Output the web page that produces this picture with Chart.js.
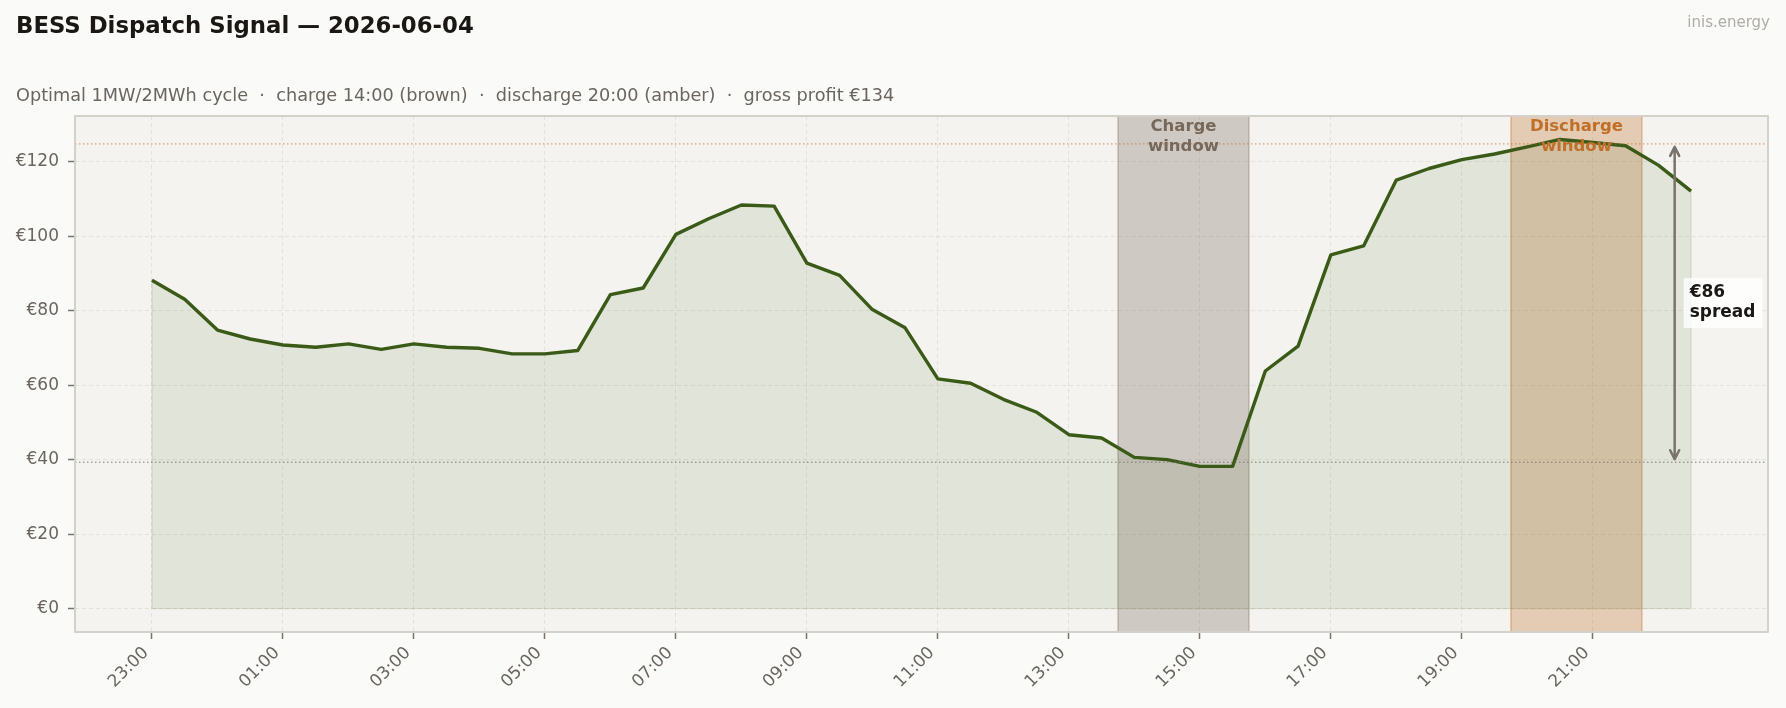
<!DOCTYPE html>
<html>
<head>
<meta charset="utf-8">
<script src="https://cdn.jsdelivr.net/npm/chart.js@4.4.1/dist/chart.umd.min.js"></script>
<style>
  html, body { margin: 0; padding: 0; background: #fafaf8; }
  canvas { display: block; }
</style>
</head>
<body>
<canvas id="chart" width="1786" height="708" style="width:1786px;height:708px"></canvas>
<script>
// ── Data ────────────────────────────────────────────────────────────────
const times = [
  '23:00', '23:30', '00:00', '00:30', '01:00', '01:30', '02:00', '02:30',
  '03:00', '03:30', '04:00', '04:30', '05:00', '05:30', '06:00', '06:30',
  '07:00', '07:30', '08:00', '08:30', '09:00', '09:30', '10:00', '10:30',
  '11:00', '11:30', '12:00', '12:30', '13:00', '13:30', '14:00', '14:30',
  '15:00', '15:30', '16:00', '16:30', '17:00', '17:30', '18:00', '18:30',
  '19:00', '19:30', '20:00', '20:30', '21:00', '21:30', '22:00', '22:30',
];
// Day-ahead price, €/MWh
const prices = [
  88.2, 83.1, 74.8, 72.4, 70.8, 70.2, 71.1, 69.6,
  71.1, 70.2, 69.9, 68.4, 68.4, 69.3, 84.3, 86.1,
  100.5, 104.7, 108.4, 108.1, 92.8, 89.5, 80.3, 75.4,
  61.7, 60.5, 56.2, 52.8, 46.7, 45.8, 40.6, 40.0,
  38.2, 38.2, 63.8, 70.5, 95.0, 97.4, 115.1, 118.2,
  120.6, 122.1, 124.0, 126.0, 125.2, 124.3, 119.1, 112.1,
];
const xTickLabels = ['23:00', '01:00', '03:00', '05:00', '07:00', '09:00',
                     '11:00', '13:00', '15:00', '17:00', '19:00', '21:00'];
const yTickValues = [0, 20, 40, 60, 80, 100, 120];

const chargeWindow = ['13:45', '15:45'];
const dischargeWindow = ['19:45', '21:45'];
const chargeAvg = 39.3;
const dischargeAvg = 124.8;
const spreadAt = '22:15';
const spreadLabel = ['€86', 'spread'];

const TITLE = 'BESS Dispatch Signal — 2026-06-04';
const SUBTITLE = 'Optimal 1MW/2MWh cycle  ·  charge 14:00 (brown)  ·  discharge 20:00 (amber)  ·  gross profit €134';
const BRAND = 'inis.energy';

// hours elapsed since the first slot (23:00)
function hoursFromStart(t) {
  const [h, m] = t.split(':').map(Number);
  return ((h - 23 + 24) % 24) + m / 60;
}

const FONT = "'DejaVu Sans', sans-serif";
const GREEN = '#3a5a17';
const BROWN = '#76685a';
const AMBER = '#bf6f27';
const MUTED = '#6b6560';

const points = prices.map((p, i) => ({ x: hoursFromStart(times[i]), y: p }));
const xLast = points[points.length - 1].x;
const yMax = Math.max(...prices);

// ── Plugins ─────────────────────────────────────────────────────────────
const backdrop = {
  id: 'backdrop',
  beforeDraw(chart) {
    const { ctx, chartArea: a } = chart;
    ctx.save();
    ctx.fillStyle = '#fafaf8';
    ctx.fillRect(0, 0, chart.width, chart.height);
    ctx.fillStyle = '#f4f3ef';
    ctx.fillRect(a.left, a.top, a.right - a.left, a.bottom - a.top);

    ctx.fillStyle = '#1a1714';
    ctx.font = `bold 22.8px ${FONT}`;
    ctx.textBaseline = 'alphabetic';
    ctx.fillText(TITLE, 16, 33);

    ctx.fillStyle = MUTED;
    ctx.font = `17.7px ${FONT}`;
    ctx.fillText(SUBTITLE, 16, 101);

    ctx.fillStyle = '#b0aca6';
    ctx.font = `15px ${FONT}`;
    ctx.textAlign = 'right';
    ctx.fillText(BRAND, 1770, 27);
    ctx.restore();
  },
};

const overlays = {
  id: 'overlays',
  beforeDatasetsDraw(chart) {
    const { ctx, chartArea: a, scales: { x, y } } = chart;
    ctx.save();
    const band = (range, fill, edge) => {
      const x0 = x.getPixelForValue(hoursFromStart(range[0]));
      const x1 = x.getPixelForValue(hoursFromStart(range[1]));
      ctx.fillStyle = fill;
      ctx.fillRect(x0, a.top, x1 - x0, a.bottom - a.top);
      ctx.strokeStyle = edge;
      ctx.lineWidth = 1.5;
      ctx.beginPath();
      ctx.moveTo(x0, a.top); ctx.lineTo(x0, a.bottom);
      ctx.moveTo(x1, a.top); ctx.lineTo(x1, a.bottom);
      ctx.stroke();
    };
    band(chargeWindow, 'rgba(120,105,90,0.30)', 'rgba(120,105,90,0.35)');
    band(dischargeWindow, 'rgba(192,114,42,0.30)', 'rgba(192,114,42,0.40)');

    // outline of the area fill
    const zx0 = x.getPixelForValue(points[0].x);
    const zx1 = x.getPixelForValue(xLast);
    const z = y.getPixelForValue(0);
    ctx.strokeStyle = 'rgba(61,94,26,0.13)';
    ctx.lineWidth = 1.2;
    ctx.beginPath();
    ctx.moveTo(zx0, y.getPixelForValue(points[0].y));
    ctx.lineTo(zx0, z);
    ctx.lineTo(zx1, z);
    ctx.lineTo(zx1, y.getPixelForValue(points[points.length - 1].y));
    ctx.stroke();
    ctx.restore();
  },
  afterDatasetsDraw(chart) {
    const { ctx, chartArea: a, scales: { x, y } } = chart;
    ctx.save();

    // average charge / discharge price lines
    const hline = (v, color) => {
      const py = y.getPixelForValue(v);
      ctx.strokeStyle = color;
      ctx.lineWidth = 1.3;
      ctx.setLineDash([1.5, 2.5]);
      ctx.beginPath();
      ctx.moveTo(a.left, py); ctx.lineTo(a.right, py);
      ctx.stroke();
    };
    hline(dischargeAvg, 'rgba(192,114,42,0.6)');
    hline(chargeAvg, 'rgba(122,115,108,0.65)');
    ctx.setLineDash([]);

    // window labels
    ctx.font = `bold 16.5px ${FONT}`;
    ctx.textAlign = 'center';
    ctx.textBaseline = 'middle';
    const windowLabel = (range, first, color) => {
      const cx = x.getPixelForValue((hoursFromStart(range[0]) + hoursFromStart(range[1])) / 2);
      ctx.fillStyle = color;
      ctx.fillText(first, cx, a.top + 11);
      ctx.fillText('window', cx, a.top + 31);
    };
    windowLabel(chargeWindow, 'Charge', BROWN);
    windowLabel(dischargeWindow, 'Discharge', AMBER);

    // spread arrow
    const sx = x.getPixelForValue(hoursFromStart(spreadAt));
    const yTop = y.getPixelForValue(dischargeAvg) + 3;
    const yBot = y.getPixelForValue(chargeAvg) - 3;
    ctx.strokeStyle = '#7a736c';
    ctx.lineWidth = 2.5;
    ctx.lineCap = 'round';
    ctx.lineJoin = 'round';
    ctx.beginPath();
    ctx.moveTo(sx, yTop); ctx.lineTo(sx, yBot);
    ctx.moveTo(sx - 4.5, yTop + 9); ctx.lineTo(sx, yTop); ctx.lineTo(sx + 4.5, yTop + 9);
    ctx.moveTo(sx - 4.5, yBot - 9); ctx.lineTo(sx, yBot); ctx.lineTo(sx + 4.5, yBot - 9);
    ctx.stroke();

    // spread label box
    const midY = y.getPixelForValue((chargeAvg + dischargeAvg) / 2);
    const tx = sx + 15;
    ctx.font = `bold 17px ${FONT}`;
    const w = Math.max(...spreadLabel.map(s => ctx.measureText(s).width));
    ctx.fillStyle = 'rgba(255,255,255,0.78)';
    ctx.fillRect(tx - 6, midY - 25, w + 13, 50);
    ctx.fillStyle = '#1a1714';
    ctx.textAlign = 'left';
    ctx.fillText(spreadLabel[0], tx, midY - 10);
    ctx.fillText(spreadLabel[1], tx, midY + 10);

    // frame
    ctx.strokeStyle = '#d4d1ca';
    ctx.lineWidth = 2;
    ctx.strokeRect(a.left, a.top, a.right - a.left, a.bottom - a.top);
    ctx.restore();
  },
};

// ── Chart ───────────────────────────────────────────────────────────────
new Chart(document.getElementById('chart'), {
  type: 'line',
  data: {
    datasets: [{
      label: 'Price',
      data: points,
      borderColor: GREEN,
      backgroundColor: 'rgba(61,94,26,0.10)',
      borderWidth: 3.4,
      borderJoinStyle: 'round',
      pointRadius: 0,
      tension: 0,
      fill: 'origin',
    }],
  },
  options: {
    responsive: false,
    animation: false,
    events: [],
    layout: { padding: { top: 116, right: 18, left: 0, bottom: 0 } },
    scales: {
      x: {
        type: 'linear',
        min: -0.05 * xLast,
        max: xLast * 1.05,
        afterBuildTicks: s => { s.ticks = xTickLabels.map(hoursFromStart).map(v => ({ value: v })); },
        afterFit: s => { s.height = 76; },
        border: { display: false, dash: [4, 3] },
        grid: { color: '#e4e1da', lineWidth: 1, tickColor: '#7a736c', tickLength: 7, tickWidth: 1.5, tickBorderDash: [] },
        ticks: {
          autoSkip: false,
          minRotation: 45,
          maxRotation: 45,
          padding: 4,
          labelOffset: -6,
          color: MUTED,
          font: { family: FONT, size: 17 },
          callback: v => xTickLabels.find(t => hoursFromStart(t) === v),
        },
      },
      y: {
        min: -0.05 * yMax,
        max: yMax * 1.05,
        afterBuildTicks: s => { s.ticks = yTickValues.map(v => ({ value: v })); },
        afterFit: s => { s.width = 75; },
        border: { display: false, dash: [4, 3] },
        grid: { color: '#e4e1da', lineWidth: 1, tickColor: '#7a736c', tickLength: 7, tickWidth: 1.5, tickBorderDash: [] },
        ticks: {
          padding: 9,
          color: MUTED,
          font: { family: FONT, size: 17 },
          callback: v => '€' + v,
        },
      },
    },
    plugins: {
      legend: { display: false },
      title: { display: false },
      tooltip: { enabled: false },
    },
  },
  plugins: [backdrop, overlays],
});
</script>
</body>
</html>
